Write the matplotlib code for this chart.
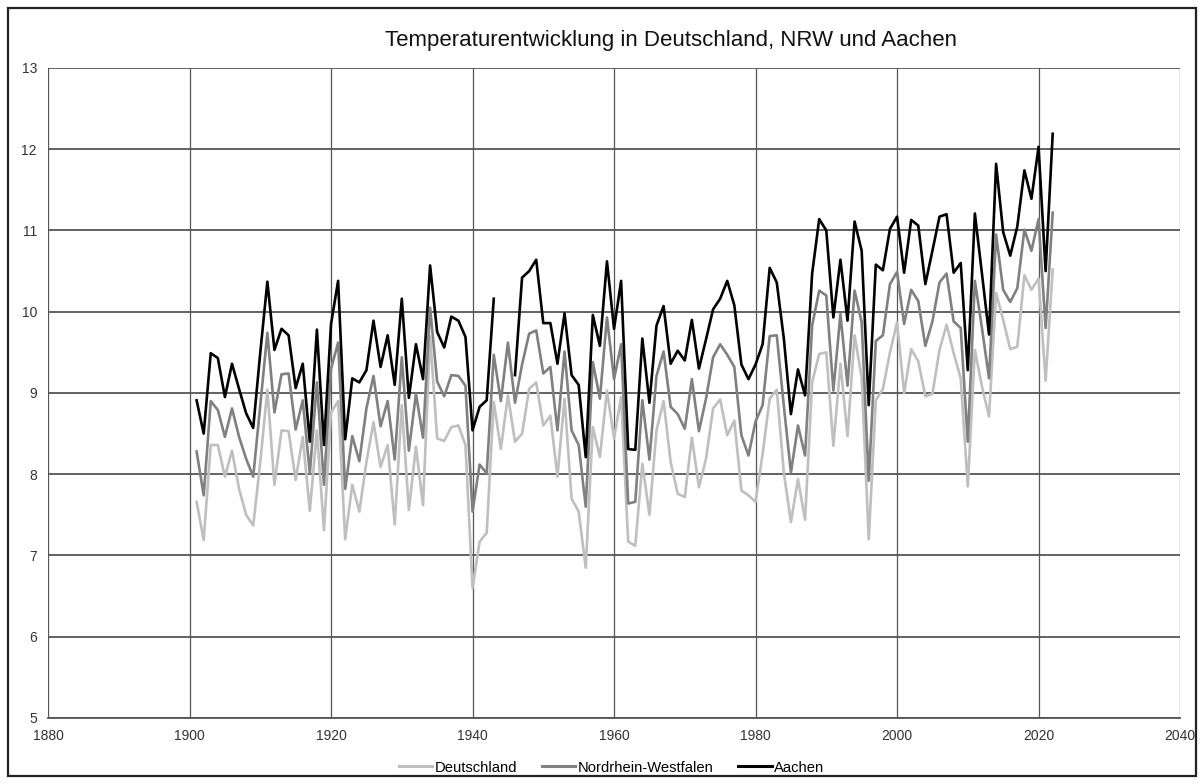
import numpy as np
import matplotlib
matplotlib.use("Agg")
import matplotlib.pyplot as plt
from matplotlib.patches import Rectangle

years = list(range(1901, 2023))
nan = float("nan")

deutschland = [
    7.66, 7.19, 8.36, 8.36, 7.97, 8.29, 7.82, 7.50, 7.37, 8.15, 9.04, 7.87, 8.54, 8.53, 7.93, 8.46, 7.55, 8.54, 7.31, 8.76,
    8.90, 7.20, 7.87, 7.54, 8.15, 8.64, 8.09, 8.36, 7.38, 8.85, 7.56, 8.34, 7.62, 9.70, 8.44, 8.41, 8.58, 8.60, 8.36, 6.60,
    7.17, 7.28, 8.89, 8.31, 8.97, 8.40, 8.50, 9.05, 9.13, 8.60, 8.72, 7.97, 8.93, 7.70, 7.54, 6.85, 8.58, 8.21, 9.03, 8.44,
    8.95, 7.17, 7.12, 8.13, 7.50, 8.54, 8.90, 8.15, 7.76, 7.72, 8.45, 7.84, 8.19, 8.81, 8.92, 8.48, 8.66, 7.80, 7.74, 7.66,
    8.25, 8.93, 9.04, 8.02, 7.41, 7.94, 7.44, 9.13, 9.48, 9.50, 8.35, 9.36, 8.47, 9.71, 9.19, 7.20, 8.91, 9.05, 9.50, 9.87,
    9.00, 9.54, 9.39, 8.96, 8.99, 9.53, 9.84, 9.49, 9.18, 7.85, 9.53, 9.08, 8.71, 10.23, 9.90, 9.54, 9.57, 10.45, 10.27, 10.41,
    9.15, 10.52,
]

nrw = [
    8.28, 7.74, 8.90, 8.79, 8.46, 8.81, 8.46, 8.19, 7.97, 8.85, 9.74, 8.76, 9.23, 9.24, 8.55, 8.91, 8.01, 9.13, 7.87, 9.30,
    9.62, 7.82, 8.47, 8.16, 8.81, 9.21, 8.59, 8.90, 8.18, 9.44, 8.29, 8.99, 8.45, 10.05, 9.14, 8.96, 9.22, 9.21, 9.09, 7.54,
    8.12, 8.01, 9.47, 8.90, 9.62, 8.88, 9.35, 9.73, 9.77, 9.24, 9.32, 8.54, 9.51, 8.54, 8.36, 7.60, 9.38, 8.93, 9.93, 9.17,
    9.60, 7.64, 7.66, 8.91, 8.18, 9.21, 9.51, 8.83, 8.74, 8.56, 9.17, 8.53, 8.93, 9.44, 9.60, 9.47, 9.32, 8.48, 8.23, 8.65,
    8.85, 9.70, 9.71, 8.84, 8.02, 8.60, 8.23, 9.83, 10.26, 10.20, 9.03, 9.97, 9.09, 10.26, 9.87, 7.92, 9.64, 9.71, 10.34, 10.49,
    9.85, 10.27, 10.13, 9.58, 9.88, 10.36, 10.47, 9.88, 9.80, 8.40, 10.38, 9.80, 9.18, 10.95, 10.27, 10.12, 10.29, 11.01, 10.75, 11.14,
    9.80, 11.22,
]

aachen = [
    8.91, 8.50, 9.49, 9.43, 8.95, 9.36, 9.05, 8.75, 8.57, 9.50, 10.37, 9.53, 9.79, 9.71, 9.06, 9.36, 8.40, 9.78, 8.36, 9.85,
    10.38, 8.43, 9.18, 9.13, 9.28, 9.89, 9.32, 9.71, 9.10, 10.16, 8.94, 9.60, 9.17, 10.57, 9.75, 9.56, 9.94, 9.89, 9.69, 8.54,
    8.83, 8.91, 10.16, nan, nan, 9.22, 10.42, 10.50, 10.64, 9.86, 9.86, 9.36, 9.98, 9.22, 9.10, 8.21, 9.96, 9.58, 10.62, 9.79,
    10.38, 8.31, 8.30, 9.67, 8.88, 9.83, 10.07, 9.36, 9.52, 9.40, 9.90, 9.30, 9.66, 10.03, 10.16, 10.38, 10.08, 9.35, 9.17, 9.35,
    9.60, 10.54, 10.36, 9.67, 8.74, 9.29, 8.97, 10.47, 11.14, 11.00, 9.93, 10.64, 9.89, 11.11, 10.75, 8.85, 10.58, 10.51, 11.02, 11.17,
    10.48, 11.13, 11.06, 10.34, 10.75, 11.17, 11.20, 10.48, 10.60, 9.28, 11.21, 10.47, 9.72, 11.82, 10.98, 10.69, 11.05, 11.74, 11.39, 12.03,
    10.50, 12.19,
]

series_names = ["Deutschland", "Nordrhein-Westfalen", "Aachen"]
title = "Temperaturentwicklung in Deutschland, NRW und Aachen"
x_ticks = list(range(1880, 2041, 20))
y_ticks = list(range(5, 14))

plt.rcParams["font.family"] = ["Liberation Sans", "DejaVu Sans"]

fig = plt.figure(figsize=(12.04, 7.84), dpi=100)
fig.patches.append(Rectangle((0.007, 0.01), 0.986, 0.98, transform=fig.transFigure,
                             fill=False, edgecolor="#222222", linewidth=1.6))

ax = fig.add_axes([0.0399, 0.0842, 0.9402, 0.8291])

ax.plot(years, deutschland, color="#bfbfbf", lw=1.9, label=series_names[0], zorder=3)
ax.plot(years, nrw, color="#808080", lw=1.9, label=series_names[1], zorder=4)
ax.plot(years, aachen, color="#000000", lw=1.9, label=series_names[2], zorder=5)

ax.set_xlim(1880, 2040)
ax.set_ylim(5, 13)
ax.set_xticks(x_ticks)
ax.set_yticks(y_ticks)
ax.grid(axis="y", color="#555555", lw=1.3, zorder=1)
ax.grid(axis="x", color="#555555", lw=0.9, zorder=1)
for s in ["top", "right", "left"]:
    ax.spines[s].set_visible(False)
ax.spines["bottom"].set_color("#555555")
ax.spines["bottom"].set_linewidth(1.3)
ax.tick_params(length=0, labelsize=10, colors="#404040", pad=8)
for lbl in ax.get_xticklabels() + ax.get_yticklabels():
    lbl.set_color("#333333")

fig.text(0.557, 0.948, title, ha="center", va="center", fontsize=16, color="#111111")

leg = fig.legend(loc="center", bbox_to_anchor=(0.508, 0.021), ncol=3, frameon=False,
                 fontsize=10.6, handlelength=2.25, handletextpad=0.15, columnspacing=1.7)
for h in leg.get_lines():
    h.set_linewidth(2.2)

fig.savefig("out.png", dpi=100)
